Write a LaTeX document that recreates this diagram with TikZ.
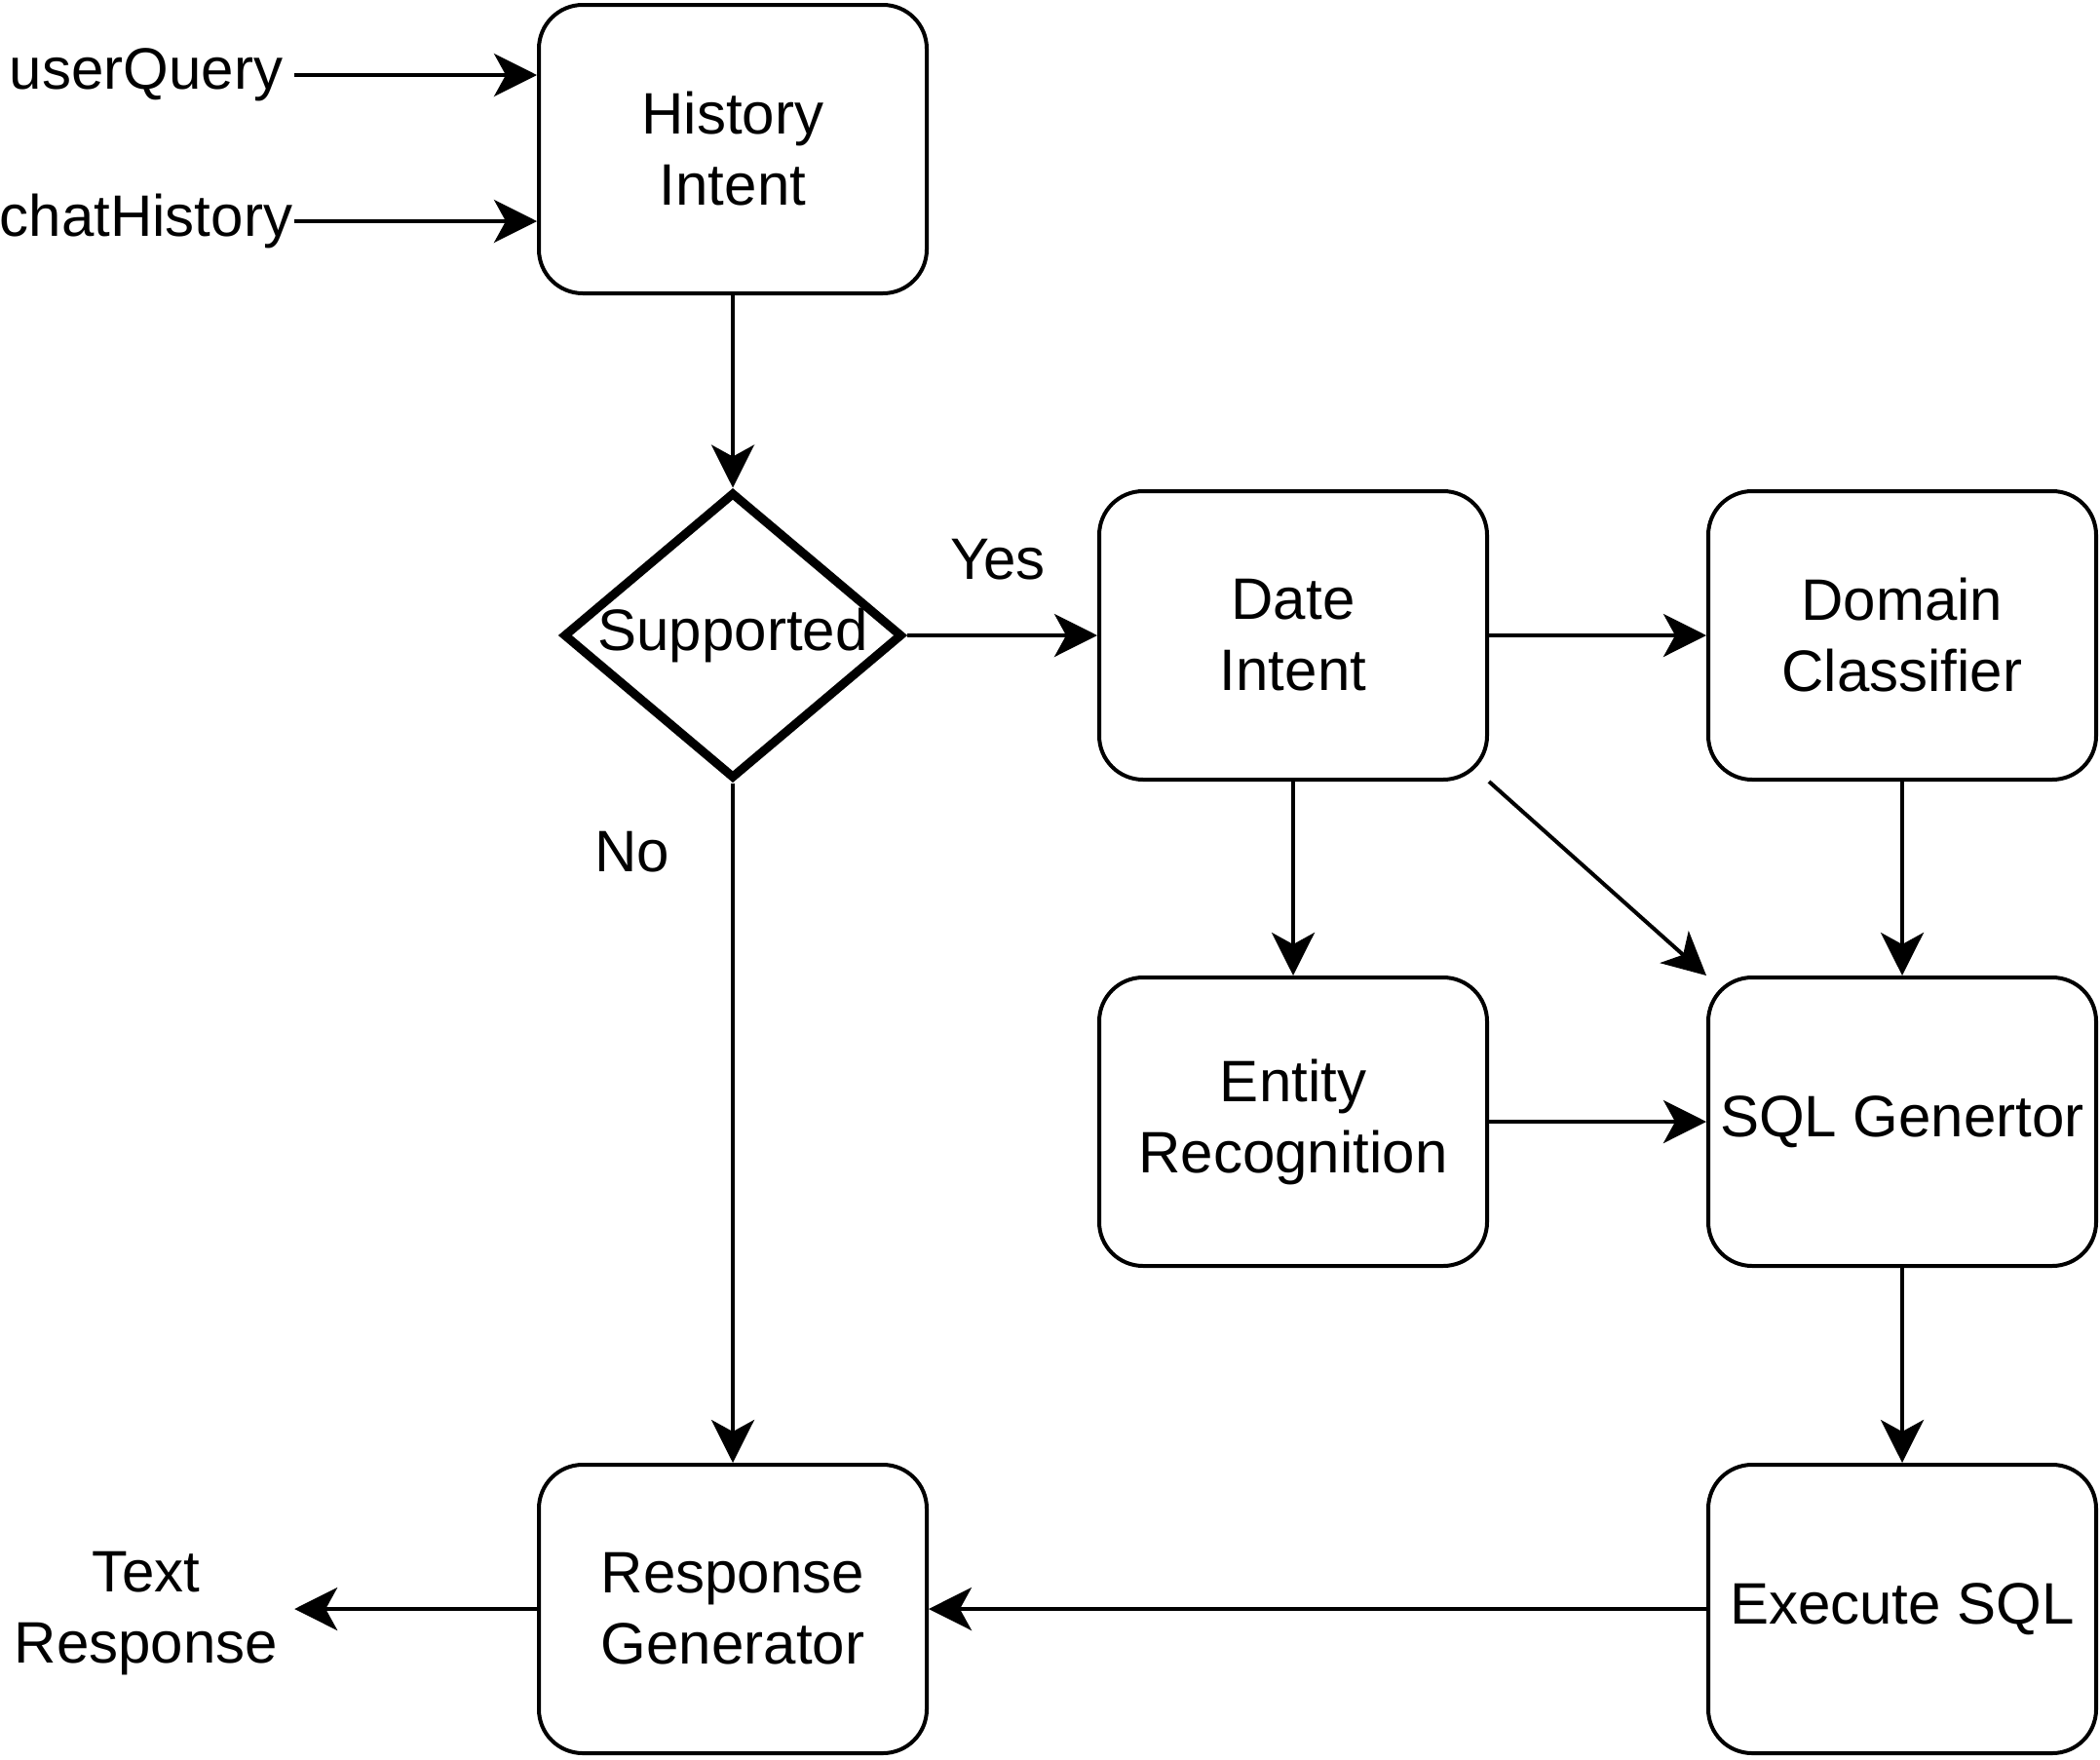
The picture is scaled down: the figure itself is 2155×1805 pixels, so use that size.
\documentclass[tikz,border=0pt]{standalone}
\usepackage{fontspec}
\setmainfont{Liberation Sans}
\usetikzlibrary{arrows.meta,shapes.geometric}
\begin{document}
\begin{tikzpicture}[x=1pt,y=-1pt,
  every node/.style={font=\fontsize{60}{73}\selectfont, inner sep=0pt},
  box/.style={draw, line width=4pt, rounded corners=45pt, minimum width=398pt, minimum height=296pt, align=center},
  decision/.style={draw, diamond, line width=9pt, minimum width=348pt, minimum height=294pt, aspect=1.18},
  lbl/.style={align=center, minimum width=304pt},
  conn/.style={line width=4pt, -{Stealth[length=44pt,width=44pt,inset=12pt]}}
]
\useasboundingbox (0,0) rectangle (2155,1805);

\node[box] (hist) at (752,153) {History\\Intent};
\node[decision] (sup) at (752,652) {Supported};
\node[box] (date) at (1327,652) {Date\\Intent};
\node[box] (dom) at (1952,652) {Domain\\Classifier};
\node[box] (ent) at (1327,1151) {Entity\\Recognition};
\node[box] (sql) at (1952,1151) {SQL Genertor};
\node[box] (resp) at (752,1651) {Response\\Generator};
\node[box] (exec) at (1952,1651) {Execute SQL};

\node[lbl] (uq) at (150,77) {userQuery};
\node[lbl] (ch) at (150,227) {chatHistory};
\node[lbl] (tr) at (150,1656) {Text\\Response};
\node (yes) at (1024,574) {Yes};
\node (no) at (649,874) {No};

\draw[conn] (uq) -- (uq -| hist.west);
\draw[conn] (ch) -- (ch -| hist.west);
\draw[conn] (hist) -- (sup);
\draw[conn] (sup) -- (date);
\draw[conn] (sup) -- (resp);
\draw[conn] (date) -- (dom);
\draw[conn] (date) -- (ent);
\draw[conn] (date.south east) -- (sql.north west);
\draw[conn] (dom) -- (sql);
\draw[conn] (ent) -- (sql);
\draw[conn] (sql) -- (exec);
\draw[conn] (exec) -- (resp);
\draw[conn] (resp.west) -- (resp.west -| tr.east);
\end{tikzpicture}
\end{document}
